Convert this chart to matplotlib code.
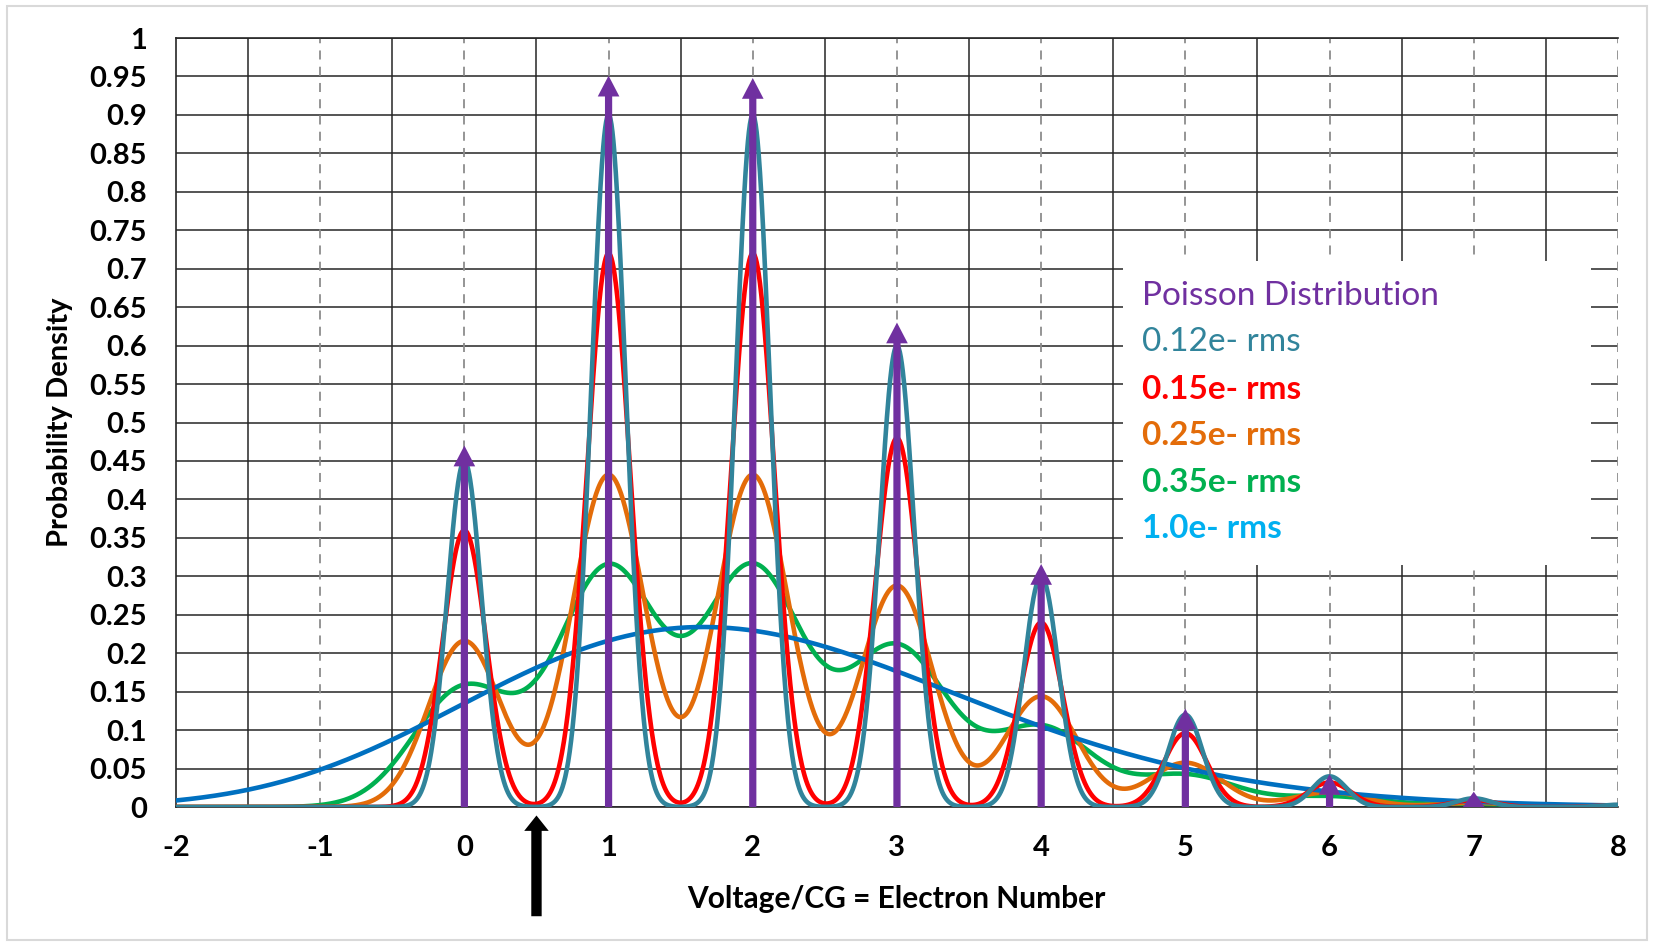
import numpy as np
import matplotlib
matplotlib.use("Agg")
import matplotlib.pyplot as plt
from matplotlib.patches import Rectangle, FancyArrow

# ---- data ----
electron_numbers = [0, 1, 2, 3, 4, 5, 6, 7, 8, 9]
# Poisson weights (mean 2), read from the 0.12e- peak heights
poisson_weights = [0.1353, 0.2707, 0.2707, 0.1804, 0.0902, 0.0361, 0.0120, 0.0034, 0.0009, 0.0002]
arrow_positions = [0, 1, 2, 3, 4, 5, 6, 7]
arrow_heights = [0.47, 0.951, 0.948, 0.63, 0.316, 0.128, 0.043, 0.02]
noise_rms = [0.12, 0.15, 0.25, 0.35, 1.0]
series_labels = ["0.12e- rms", "0.15e- rms", "0.25e- rms", "0.35e- rms", "1.0e- rms"]
x_ticks = [-2, -1, 0, 1, 2, 3, 4, 5, 6, 7, 8]
y_ticks = [0, 0.05, 0.1, 0.15, 0.2, 0.25, 0.3, 0.35, 0.4, 0.45, 0.5,
           0.55, 0.6, 0.65, 0.7, 0.75, 0.8, 0.85, 0.9, 0.95, 1]
y_tick_labels = ["0", "0.05", "0.1", "0.15", "0.2", "0.25", "0.3", "0.35", "0.4", "0.45", "0.5",
                 "0.55", "0.6", "0.65", "0.7", "0.75", "0.8", "0.85", "0.9", "0.95", "1"]
read_noise_marker_x = 0.5

# ---- styles ----
FONT = "Lato"
purple = "#7030A0"
line_colors = {0.12: "#31849B", 0.15: "#FF0000", 0.25: "#E36C09", 0.35: "#00B050", 1.0: "#0070C0"}
label_colors = ["#31849B", "#FF0000", "#E36C09", "#00B050", "#00B0F0"]
label_weights = ["normal", "bold", "bold", "bold", "bold"]
zorders = {0.35: 3, 0.25: 3.1, 1.0: 3.2, 0.15: 3.3, 0.12: 3.4}

plt.rcParams["font.family"] = [FONT, "DejaVu Sans"]

fig = plt.figure(figsize=(16.54, 9.46), dpi=100)
fig.patches.append(Rectangle((0.004, 0.006), 0.992, 0.988, transform=fig.transFigure,
                             fill=False, edgecolor="#d9d9d9", lw=1.5))
ax = fig.add_axes([0.1064, 0.1469, 0.8718, 0.8129])

ax.set_xlim(-2, 8)
ax.set_ylim(0, 1)

# grid
for yv in y_ticks:
    ax.axhline(yv, color="#262626", lw=1.1, zorder=0.5)
for xv in np.arange(-1.5, 8, 1.0):
    ax.axvline(xv, color="#262626", lw=1.1, zorder=0.5)
for xv in x_ticks[1:]:
    ax.axvline(xv, color="#8c8c8c", lw=1.3, ls=(0, (5, 4)), zorder=0.5)

# legend box
ax.add_patch(Rectangle((4.57, 0.315), 3.24, 0.395, facecolor="white", edgecolor="none", zorder=1))

# curves
x = np.linspace(-2, 8, 3001)
for s in noise_rms:
    y = np.zeros_like(x)
    for k, w in zip(electron_numbers, poisson_weights):
        y += w * np.exp(-0.5 * ((x - k) / s) ** 2) / (s * np.sqrt(2 * np.pi))
    ax.plot(x, y, color=line_colors[s], lw=3.3, zorder=zorders[s], solid_capstyle="round")

# Poisson arrows
HEAD_W = 0.15
HEAD_L = 0.027
SHAFT_W = 0.05
for k, h in zip(arrow_positions, arrow_heights):
    hl = min(HEAD_L, h)
    ax.add_patch(FancyArrow(k, 0, 0, h, width=SHAFT_W, head_width=HEAD_W, head_length=hl,
                            length_includes_head=True, color=purple, lw=0, zorder=5))

# black marker arrow below axis
ax.add_patch(FancyArrow(read_noise_marker_x, -0.142, 0, 0.131, width=0.072, head_width=0.17,
                        head_length=0.02, length_includes_head=True, color="black", lw=0,
                        clip_on=False, zorder=5))

# legend text
ax.text(4.70, 0.665, "Poisson Distribution", color=purple, fontsize=24, va="center", ha="left", zorder=6)
legend_ys = [0.605, 0.543, 0.483, 0.422, 0.362]
for lab, c, wgt, yy in zip(series_labels, label_colors, label_weights, legend_ys):
    ax.text(4.70, yy, lab, color=c, fontsize=24, fontweight=wgt, va="center", ha="left", zorder=6)

# ticks
ax.set_xticks(x_ticks)
ax.set_xticklabels([str(v) for v in x_ticks], fontsize=21, fontweight="bold")
ax.set_yticks(y_ticks)
ax.set_yticklabels(y_tick_labels, fontsize=21, fontweight="bold")
ax.tick_params(axis="x", length=0, pad=20)
ax.tick_params(axis="y", length=0, pad=21)

for side in ["left", "bottom", "top"]:
    ax.spines[side].set_color("#262626")
    ax.spines[side].set_linewidth(1.2)
ax.spines["right"].set_visible(False)

fig.text(0.5418, 1 - 899 / 946, "Voltage/CG = Electron Number", fontsize=21.5, fontweight="bold",
         ha="center", va="center")
fig.text(0.0363, 0.5534, "Probability Density", fontsize=21, fontweight="bold",
         ha="center", va="center", rotation=90)

fig.savefig("out.png", dpi=100, facecolor="white")
